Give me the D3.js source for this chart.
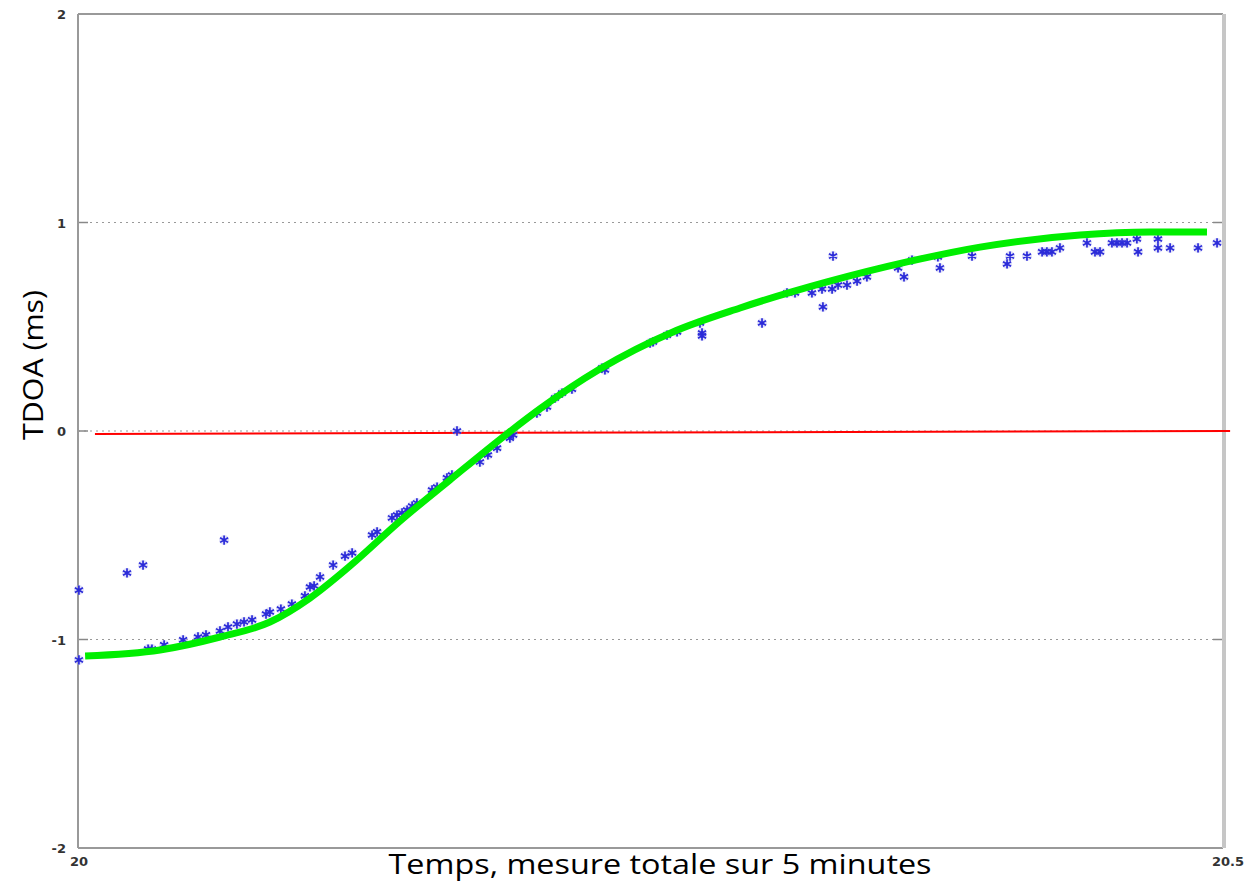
<!DOCTYPE html>
<html><head><meta charset="utf-8">
<script src="https://cdn.jsdelivr.net/npm/d3@7"></script>
<style>body{margin:0;background:#fff}svg{display:block}</style>
</head><body>
<svg id="c" width="1245" height="881"></svg>
<script>
// ---- data ----
const xTicks = [20, 20.5];
const xTickLabels = ["20", "20.5"];
const yTicks = [-2, -1, 0, 1, 2];
const yTickLabels = ["-2", "-1", "0", "1", "2"];
const yGrid = [-1, 0, 1];
const xTitle = "Temps, mesure totale sur 5 minutes";
const yTitle = "TDOA (ms)";

const measT = [20.0004,20.0004,20.0214,20.0284,20.0638,20.0306,20.0323,20.0376,20.0459,20.0524,20.0559,20.0620,20.0655,20.0694,20.0725,20.0760,20.0821,20.0838,20.0886,20.0934,20.0991,20.1013,20.1031,20.1057,20.1114,20.1166,20.1197,20.1284,20.1306,20.1371,20.1393,20.1415,20.1437,20.1459,20.1480,20.1546,20.1568,20.1611,20.1633,20.1655,20.1755,20.1790,20.1830,20.1886,20.1900,20.2004,20.2048,20.2083,20.2114,20.2157,20.2288,20.2301,20.2498,20.2511,20.2572,20.2616,20.2716,20.2725,20.2725,20.2987,20.3096,20.3131,20.3205,20.3249,20.3253,20.3297,20.3293,20.3319,20.3358,20.3402,20.3445,20.3581,20.3607,20.3642,20.3755,20.3764,20.3904,20.4057,20.4070,20.4144,20.4210,20.4231,20.4253,20.4288,20.4406,20.4441,20.4463,20.4515,20.4537,20.4559,20.4581,20.4624,20.4629,20.4716,20.4716,20.4769,20.4891,20.4974];
const measV = [-0.763,-1.098,-0.681,-0.643,-0.523,-1.046,-1.046,-1.026,-1.002,-0.988,-0.978,-0.959,-0.940,-0.926,-0.916,-0.906,-0.878,-0.868,-0.854,-0.830,-0.791,-0.748,-0.743,-0.700,-0.643,-0.600,-0.585,-0.499,-0.484,-0.417,-0.403,-0.393,-0.379,-0.360,-0.345,-0.283,-0.269,-0.225,-0.211,0.000,-0.149,-0.115,-0.082,-0.034,-0.019,0.086,0.115,0.158,0.182,0.201,0.302,0.293,0.422,0.427,0.460,0.475,0.518,0.470,0.456,0.518,0.662,0.662,0.662,0.681,0.595,0.839,0.681,0.700,0.700,0.719,0.739,0.782,0.739,0.820,0.835,0.782,0.839,0.801,0.839,0.839,0.859,0.859,0.859,0.878,0.902,0.859,0.859,0.902,0.902,0.902,0.902,0.921,0.859,0.921,0.878,0.878,0.878,0.902];

const fitT = [20.0031,20.0358,20.0620,20.0838,20.1013,20.1188,20.1406,20.1624,20.1873,20.2017,20.2279,20.2598,20.2891,20.3271,20.3620,20.3939,20.4376,20.4681,20.4930];
const fitV = [-1.079,-1.050,-0.988,-0.916,-0.801,-0.647,-0.432,-0.235,-0.014,0.106,0.297,0.475,0.590,0.715,0.811,0.882,0.940,0.954,0.954];

const zeroT = [20.0074, 20.5031];
const zeroV = [-0.014, 0.0];

// ---- chart ----
const svg = d3.select("#c");
const L = 78, R = 1223, T = 14, B = 848;
const x = d3.scaleLinear().domain([20, 20.5]).range([L, R]);
const y = d3.scaleLinear().domain([-2, 2]).range([B, T]);

// grid
svg.append("g").selectAll("line").data(yGrid).join("line")
  .attr("x1", L).attr("x2", R).attr("y1", d => y(d)).attr("y2", d => y(d))
  .attr("stroke", "#999").attr("stroke-width", 1).attr("stroke-dasharray", "2,4");

// tick marks (inside, both sides)
const tk = svg.append("g");
tk.selectAll("line.l").data(yTicks).join("line").attr("class","l")
  .attr("x1", L).attr("x2", L + 10).attr("y1", d => y(d)).attr("y2", d => y(d))
  .attr("stroke", "#888").attr("stroke-width", 1.5);
tk.selectAll("line.r").data(yTicks).join("line").attr("class","r")
  .attr("x1", R - 10).attr("x2", R).attr("y1", d => y(d)).attr("y2", d => y(d))
  .attr("stroke", "#888").attr("stroke-width", 1.5);

// frame
svg.append("line").attr("x1", L).attr("x2", R).attr("y1", T).attr("y2", T).attr("stroke", "#999").attr("stroke-width", 2);
svg.append("line").attr("x1", L).attr("x2", R).attr("y1", B).attr("y2", B).attr("stroke", "#999").attr("stroke-width", 2);
svg.append("line").attr("x1", L).attr("x2", L).attr("y1", T).attr("y2", B).attr("stroke", "#999").attr("stroke-width", 2);
svg.append("line").attr("x1", R + 1).attr("x2", R + 1).attr("y1", T).attr("y2", B).attr("stroke", "#c6c6c6").attr("stroke-width", 4);

// zero (red) line
const line = d3.line().x(d => x(d[0])).y(d => y(d[1]));
svg.append("path").datum(d3.zip(zeroT, zeroV)).attr("d", line)
  .attr("fill", "none").attr("stroke", "#ff0000").attr("stroke-width", 2);

// measurements
const sym = d3.symbol().type(d3.symbolAsterisk).size(60);
const pts = d3.zip(measT, measV);
const g = svg.append("g");
g.selectAll("circle").data(pts).join("circle")
  .attr("cx", d => x(d[0])).attr("cy", d => y(d[1])).attr("r", 5)
  .attr("fill", "#b8b8f0").attr("opacity", 0.45);
g.selectAll("path").data(pts).join("path")
  .attr("transform", d => `translate(${x(d[0])},${y(d[1])})`)
  .attr("d", sym).attr("fill", "none").attr("stroke", "#2a2ad8").attr("stroke-width", 1.7);

// fit curve
svg.append("path").datum(d3.zip(fitT, fitV))
  .attr("d", d3.line().x(d => x(d[0])).y(d => y(d[1])).curve(d3.curveMonotoneX))
  .attr("fill", "none").attr("stroke", "#00ee00").attr("stroke-width", 7).attr("stroke-linecap", "butt");

// tick labels
svg.append("g").selectAll("text").data(yTicks).join("text")
  .attr("x", L - 12).attr("y", d => y(d) + 5).attr("text-anchor", "end")
  .attr("font-family", "DejaVu Sans").attr("font-size", 13).attr("font-weight", "bold").attr("fill", "#333")
  .text((d, i) => yTickLabels[i]);
svg.append("g").selectAll("text").data(xTicks).join("text")
  .attr("x", d => x(d) + (d === 20 ? 1 : 5)).attr("y", B + 18).attr("text-anchor", "middle")
  .attr("font-family", "DejaVu Sans").attr("font-size", 13).attr("font-weight", "bold").attr("fill", "#333")
  .text((d, i) => xTickLabels[i]);

// titles
svg.append("text").attr("x", 660).attr("y", 874).attr("text-anchor", "middle")
  .attr("font-family", "Open Sans").attr("font-size", 27).attr("fill", "#000")
  .attr("textLength", 543).attr("lengthAdjust", "spacingAndGlyphs").text(xTitle);
svg.append("text").attr("transform", "translate(43,365) rotate(-90)").attr("text-anchor", "middle")
  .attr("font-family", "Open Sans").attr("font-size", 28).attr("fill", "#000")
  .attr("textLength", 150).attr("lengthAdjust", "spacingAndGlyphs").text(yTitle);
</script>
</body></html>
